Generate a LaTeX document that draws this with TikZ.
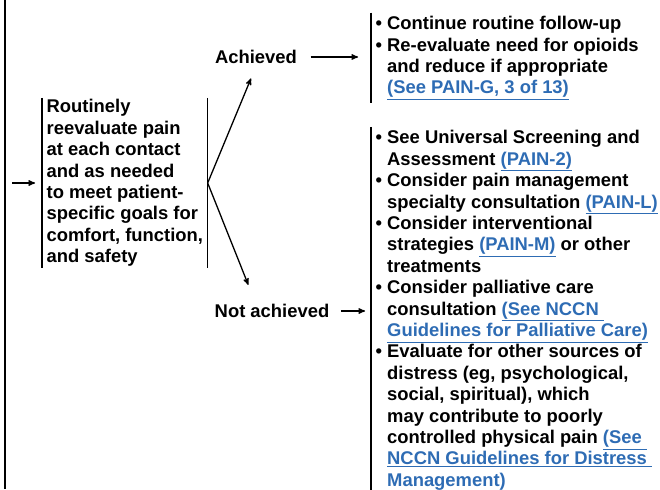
\documentclass[tikz,border=0pt]{standalone}
\usepackage{fontspec}
\setmainfont{Liberation Sans}
\usepackage{tikz}
\usetikzlibrary{arrows}
\definecolor{linkblue}{RGB}{46,108,180}
\newcommand{\lnk}[1]{\textcolor{linkblue}{\underline{#1}}}
\newcommand{\bul}{\textbullet\ }
\newcommand{\ind}{\phantom{\textbullet\ }}

\begin{document}
\begin{tikzpicture}[x=1pt,y=-1pt,>=stealth',line width=1.3pt,
    box/.style={align=left,inner xsep=4pt,inner ysep=1pt,
                font=\fontsize{18.4}{21.4}\selectfont\bfseries},
    lbl/.style={inner sep=2pt,font=\fontsize{18.4}{21.4}\selectfont\bfseries}]

  \useasboundingbox (0,0) rectangle (660,489);
  \draw[line width=2pt] (5,0) -- (5,489);

  \coordinate (in) at (12,183);
  \node[box,anchor=west] (reeval) at (42,183)
    {Routinely\\reevaluate pain\\at each contact\\and as needed\\to meet patient-\\
     specific goals for\\comfort, function,\\and safety};

  \node[lbl] (ach)    at (256,57)  {Achieved};
  \node[lbl] (notach) at (272,311) {Not achieved};

  \node[box,anchor=west,inner ysep=3pt] (good) at (371,58)
    {\bul Continue routine follow-up\\
     \bul Re-evaluate need for opioids\\
     \ind and reduce if appropriate\\
     \ind\lnk{(See PAIN-G, 3 of 13)}};

  \node[box,anchor=north west,inner ysep=3pt] (bad) at (371,127)
    {\bul See Universal Screening and\\
     \ind Assessment \lnk{(PAIN-2)}\\
     \bul Consider pain management\\
     \ind specialty consultation \lnk{(PAIN-L)}\\
     \bul Consider interventional\\
     \ind strategies \lnk{(PAIN-M)} or other\\
     \ind treatments\\
     \bul Consider palliative care\\
     \ind consultation \lnk{(See NCCN\ }\\
     \ind\lnk{Guidelines for Palliative Care)}\\
     \bul Evaluate for other sources of\\
     \ind distress (eg, psychological,\\
     \ind social, spiritual), which\\
     \ind may contribute to poorly\\
     \ind controlled physical pain \lnk{(See\ }\\
     \ind\lnk{NCCN Guidelines for Distress\ }\\
     \ind\lnk{Management)}};

  % brackets
  \draw (reeval.north west) -- (reeval.south west);
  \draw (reeval.north east) -- (reeval.south east);
  \draw (good.north west) -- (good.south west);
  \draw (bad.north west) -- (bad.south west);

  \path[->] (in)          edge [shorten >=7pt]  (reeval.west);
  \path[->] (reeval.east) edge [shorten >=13pt] (ach.south);
  \path[->] (reeval.east) edge [shorten >=18pt] ([xshift=-17pt]notach.north);
  \path[->] (ach.east)    edge [shorten <=11pt,shorten >=13pt] (ach.east -| good.west);
  \path[->] (notach.east) edge [shorten <=9pt,shorten >=6pt] (notach.east -| bad.west);

\end{tikzpicture}
\end{document}
